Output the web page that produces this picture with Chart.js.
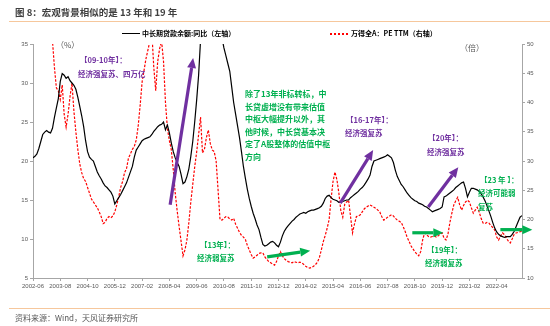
<!DOCTYPE html>
<html>
<head>
<meta charset="utf-8">
<script src="https://cdn.jsdelivr.net/npm/chart.js@4.4.1/dist/chart.umd.min.js"></script>
<style>
    html, body { margin: 0; padding: 0; background: #fff; }
    #wrap { position: relative; width: 550px; height: 326px; overflow: hidden;
            font-family: "Noto Sans CJK SC", "Noto Sans", sans-serif; }
    #wrap canvas { position: absolute; left: 0; top: 0; }
    .t { position: absolute; white-space: nowrap; line-height: 1; }
    .rule { position: absolute; left: 9px; width: 541px; height: 1px; background: #f6c79c; }
    .purple { color: #7030a0; font-size: 7.5px; font-weight: bold; }
    .green { color: #00b050; font-size: 7.5px; font-weight: bold; }
</style>
</head>
<body>
<div id="wrap">
    <canvas id="chart" width="550" height="326"></canvas>

    <div class="t" style="left:15px; top:8px; font-size:9.5px; font-weight:bold; color:#404040;">图 8：宏观背景相似的是 13 年和 19 年</div>
    <div class="rule" style="top:21px;"></div>

    <div style="position:absolute; left:122px; top:33px; width:18px; height:1.3px; background:#000;"></div>
    <div class="t" style="left:142px; top:30px; font-size:7px; font-weight:bold; color:#000;">中长期贷款余额:同比（左轴）</div>
    <div style="position:absolute; left:330px; top:33px; width:19px; height:1.5px;
                background:repeating-linear-gradient(90deg, #ff0000 0 2.5px, transparent 2.5px 4px);"></div>
    <div class="t" style="left:351px; top:30px; font-size:7px; font-weight:bold; color:#000;">万得全A：PE TTM（右轴）</div>

    <div class="t" style="left:56px; top:41px; font-size:8px; color:#595959;">（%）</div>
    <div class="t" style="left:460px; top:44px; font-size:8px; color:#595959;">（倍）</div>

    <div class="t purple" style="left:80px; top:56px;">【09-10年】：</div>
    <div class="t purple" style="left:78px; top:70px;">经济强复苏、四万亿</div>

    <div class="t green" style="left:245px; top:88px; font-size:8px; line-height:12.6px;">除了13年非标转标，中<br>长贷虚增没有带来估值<br>中枢大幅提升以外，其<br>他时候，中长贷基本决<br>定了A股整体的估值中枢<br>方向</div>

    <div class="t green" style="left:200px; top:241px;">【13年】：</div>
    <div class="t green" style="left:197px; top:254px;">经济弱复苏</div>

    <div class="t purple" style="left:346px; top:116px;">【16-17年】：</div>
    <div class="t purple" style="left:345px; top:129px;">经济强复苏</div>

    <div class="t purple" style="left:428px; top:134px;">【20年】：</div>
    <div class="t purple" style="left:427px; top:148px;">经济强复苏</div>

    <div class="t green" style="left:427px; top:246px;">【19年】：</div>
    <div class="t green" style="left:425px; top:259px;">经济弱复苏</div>

    <div class="t green" style="left:480px; top:176px;">【23 年 】：</div>
    <div class="t green" style="left:478px; top:189px;">经济可能弱</div>
    <div class="t green" style="left:478px; top:203px;">复苏</div>

    <div class="rule" style="top:308px;"></div>
    <div class="t" style="left:15px; top:314px; font-size:8px; color:#595959;">资料来源：Wind，天风证券研究所</div>
</div>

<script>
// monthly, 2002-06 .. 2023-05 (index 0 = 2002-06)
const xTickLabels = ['2002-06', '2003-08', '2004-10', '2005-12', '2007-02', '2008-04',
    '2009-06', '2010-08', '2011-10', '2012-12', '2014-02', '2015-04', '2016-06',
    '2017-08', '2018-10', '2019-12', '2021-02', '2022-04'];
const tickEvery = 14;

// 中长期贷款余额:同比 (%), left axis
const loanGrowth = [
    20.4, 20.6, 20.9, 21.6, 22.5, 23.4, 23.7, 23.9, 23.7, 23.6, 24.2, 25.6,
    26.8, 28.0, 30.2, 31.2, 31.0, 30.6, 30.8, 30.3, 30.0, 29.7, 29.2, 28.2,
    27.0, 25.8, 24.4, 22.6, 21.2, 20.5, 20.2, 20.0, 19.3, 18.6, 18.1, 17.7,
    17.2, 16.8, 16.6, 16.3, 16.0, 15.5, 14.5, 14.9, 15.3, 15.7, 16.2, 16.7,
    17.2, 17.9, 18.6, 19.3, 20.5, 21.4, 21.8, 22.2, 22.6, 22.8, 22.9, 23.0,
    23.1, 23.4, 23.8, 24.1, 24.4, 24.6, 24.7, 25.0, 24.0, 24.6, 23.6, 22.3,
    21.2, 20.4, 19.8, 19.3, 18.3, 17.1, 17.3, 18.0, 19.0, 20.6, 22.5, 25.0,
    27.8, 31.0, 35.5, 38.5, 40.5, 42.0, 43.0, 43.5, 43.5, 42.5, 41.0, 39.0,
    37.5, 35.8, 34.5, 33.5, 32.5, 31.5, 29.5, 27.5, 26.0, 24.5, 23.0, 21.2,
    19.3, 17.8, 16.4, 15.2, 14.2, 13.3, 12.6, 11.8, 11.2, 10.2, 9.3, 9.1,
    9.2, 9.4, 9.6, 9.7, 9.5, 9.2, 9.0, 9.6, 10.4, 11.0, 11.4, 11.7,
    12.0, 12.3, 12.5, 12.8, 13.0, 13.2, 13.3, 13.4, 13.3, 13.5, 13.6, 13.7,
    13.7, 13.8, 13.9, 14.0, 14.2, 14.6, 15.2, 15.5, 15.6, 15.3, 15.1, 15.0,
    14.9, 14.7, 14.7, 14.8, 14.9, 15.0, 15.0, 15.3, 15.5, 15.7, 15.9, 16.1,
    16.4, 16.6, 16.9, 17.3, 17.7, 18.2, 19.3, 20.0, 20.1, 20.2, 20.3, 20.4,
    20.5, 20.6, 20.8, 20.6, 20.4, 19.8, 18.8, 18.0, 17.5, 17.0, 16.7, 16.3,
    15.9, 15.6, 15.3, 15.1, 14.9, 14.8, 14.6, 14.5, 14.4, 14.2, 14.1, 13.9,
    13.7, 13.5, 13.6, 13.7, 13.8, 13.9, 14.1, 15.4, 15.5, 15.7, 15.9, 16.1,
    16.3, 16.6, 16.8, 17.0, 17.2, 17.3, 16.5, 15.4, 16.0, 16.5, 16.5, 16.4,
    16.3, 16.1, 15.8, 15.4, 14.9, 14.3, 13.6, 12.9, 12.1, 11.4, 10.9, 10.6,
    10.4, 10.3, 10.2, 10.3, 10.3, 10.3, 10.6, 11.0, 11.6, 12.2, 12.8, 13.0
];

// 万得全A：PE TTM (倍), right axis
const allAPe = [
    56.0, 55.0, 54.0, 53.0, 53.0, 54.0, 55.0, 55.0, 54.0, 52.0, 50.5, 46.0,
    42.5, 42.0, 40.5, 43.0, 38.0, 35.8, 38.0, 41.0, 43.3, 38.5, 35.0, 32.0,
    29.5, 28.0, 27.0, 26.5, 25.5, 24.5, 23.5, 23.0, 22.5, 22.0, 21.3, 20.5,
    19.3, 19.5, 20.2, 20.5, 20.3, 20.6, 21.3, 22.5, 23.9, 25.5, 26.5, 28.0,
    28.7, 30.5, 31.2, 32.0, 32.5, 33.6, 36.0, 39.5, 43.5, 45.5, 47.5, 49.0,
    50.5, 52.0, 46.0, 42.0, 47.0, 49.2, 50.5, 47.0, 40.0, 35.5, 33.5, 31.9,
    28.5, 24.5, 21.5, 18.8, 16.3, 13.8, 14.8, 16.5, 19.5, 23.0, 26.0, 29.0,
    31.5, 34.5, 37.5, 31.4, 32.0, 34.0, 35.3, 33.0, 31.9, 31.6, 30.0, 25.0,
    20.0, 19.9, 20.2, 20.5, 20.4, 20.1, 19.9, 20.2, 19.2, 18.5, 17.8, 17.3,
    17.0, 16.6, 15.6, 14.8, 14.0, 13.4, 13.6, 13.9, 14.2, 14.3, 14.3, 13.6,
    13.2, 12.8, 12.6, 12.4, 12.2, 12.8, 13.8, 14.5, 13.8, 13.3, 13.0, 12.8,
    12.7, 12.6, 12.8, 12.7, 12.6, 12.7, 12.6, 12.3, 12.0, 11.8, 11.7, 11.8,
    12.0, 12.3, 12.7, 13.5, 14.8, 16.2, 17.3, 18.5, 20.0, 23.5, 26.5, 28.1,
    26.8, 24.5, 21.5, 20.4, 22.6, 23.0, 23.3, 20.5, 17.7, 19.2, 20.5, 20.6,
    20.8, 21.3, 21.8, 22.1, 22.3, 22.5, 22.3, 22.1, 21.9, 21.6, 21.3, 20.5,
    19.9, 20.1, 20.4, 20.6, 20.8, 20.6, 20.2, 19.9, 19.7, 19.5, 18.8, 18.0,
    17.0, 16.3, 15.5, 15.0, 14.5, 14.1, 13.8, 14.5, 16.5, 17.7, 17.4, 17.1,
    17.0, 17.1, 17.2, 17.0, 17.2, 17.5, 17.7, 16.8, 16.5, 17.5, 19.5, 21.1,
    22.5, 23.2, 23.8, 22.5, 21.6, 22.4, 23.0, 23.3, 23.0, 22.0, 21.1, 21.6,
    22.1, 21.3, 20.2, 19.4, 19.3, 19.5, 19.4, 19.0, 18.6, 18.2, 17.0, 16.5,
    17.2, 17.7, 17.4, 16.8, 16.3, 16.0, 16.7, 17.5, 17.7, 17.8, 17.9, 18.0
];

// arrows: [month index, left-axis %] -> [month index, left-axis %]
const PURPLE = '#7030a0';
const GREEN = '#00b050';
const arrows = [
    { from: [70.4, 14.4], to: [82.2, 33.2], color: PURPLE },
    { from: [120.2, 7.7], to: [142.3, 8.5], color: GREEN },
    { from: [157.7, 14.6], to: [174.6, 21.4], color: PURPLE },
    { from: [194.7, 10.8], to: [210.6, 10.8], color: GREEN },
    { from: [202.9, 14.1], to: [218.3, 19.2], color: PURPLE },
    { from: [239.9, 11.2], to: [256.3, 11.2], color: GREEN }
];

const arrowPlugin = {
    id: 'arrows',
    afterDatasetsDraw(chart) {
        const { ctx, scales } = chart;
        arrows.forEach(a => {
            const x0 = scales.x.getPixelForValue(a.from[0]);
            const y0 = scales.yL.getPixelForValue(a.from[1]);
            const x1 = scales.x.getPixelForValue(a.to[0]);
            const y1 = scales.yL.getPixelForValue(a.to[1]);
            const ang = Math.atan2(y1 - y0, x1 - x0);
            const headLen = 10, headW = 4.5;
            const bx = x1 - headLen * Math.cos(ang);
            const by = y1 - headLen * Math.sin(ang);
            ctx.save();
            ctx.strokeStyle = a.color;
            ctx.fillStyle = a.color;
            ctx.lineWidth = 3.2;
            ctx.beginPath();
            ctx.moveTo(x0, y0);
            ctx.lineTo(bx, by);
            ctx.stroke();
            ctx.beginPath();
            ctx.moveTo(x1, y1);
            ctx.lineTo(bx + headW * Math.sin(ang), by - headW * Math.cos(ang));
            ctx.lineTo(bx - headW * Math.sin(ang), by + headW * Math.cos(ang));
            ctx.closePath();
            ctx.fill();
            ctx.restore();
        });
    }
};

const tickFont = { family: '"Liberation Sans", sans-serif', size: 6 };
const axisGray = '#a6a6a6';

new Chart(document.getElementById('chart'), {
    type: 'line',
    data: {
        datasets: [
            {
                label: '中长期贷款余额:同比（左轴）',
                data: loanGrowth.map((v, i) => ({ x: i, y: v })),
                yAxisID: 'yL',
                borderColor: '#000000',
                borderWidth: 1.2,
                pointRadius: 0,
                tension: 0
            },
            {
                label: '万得全A：PE TTM（右轴）',
                data: allAPe.map((v, i) => ({ x: i, y: v })),
                yAxisID: 'yR',
                borderColor: '#ff0000',
                borderWidth: 1.2,
                borderDash: [2.5, 1.5],
                pointRadius: 0,
                tension: 0
            }
        ]
    },
    options: {
        responsive: false,
        animation: false,
        devicePixelRatio: 1,
        layout: { padding: { top: 44, left: 0, right: 0, bottom: 0 } },
        plugins: {
            legend: { display: false },
            tooltip: { enabled: false }
        },
        scales: {
            x: {
                type: 'linear',
                min: 0,
                max: loanGrowth.length - 1,
                afterBuildTicks: s => {
                    s.ticks = xTickLabels.map((_, k) => ({ value: k * tickEvery }));
                },
                afterFit: s => { s.height = 48; },
                ticks: {
                    font: tickFont,
                    color: '#595959',
                    maxRotation: 0,
                    autoSkip: false,
                    padding: 2,
                    callback: v => xTickLabels[Math.round(v / tickEvery)]
                },
                grid: { drawOnChartArea: false, drawTicks: true, tickLength: 3, color: axisGray },
                border: { display: true, color: axisGray }
            },
            yL: {
                position: 'left',
                min: 5,
                max: 35,
                afterFit: s => { s.width = 33; },
                ticks: { stepSize: 5, font: tickFont, color: '#595959', padding: 2 },
                grid: { drawOnChartArea: false, drawTicks: true, tickLength: 3, color: axisGray },
                border: { display: true, color: axisGray }
            },
            yR: {
                position: 'right',
                min: 10,
                max: 50,
                afterFit: s => { s.width = 28; },
                ticks: { stepSize: 5, font: tickFont, color: '#595959', padding: 2 },
                grid: { drawOnChartArea: false, drawTicks: true, tickLength: 3, color: axisGray },
                border: { display: true, color: axisGray }
            }
        }
    },
    plugins: [arrowPlugin]
});
</script>
</body>
</html>
